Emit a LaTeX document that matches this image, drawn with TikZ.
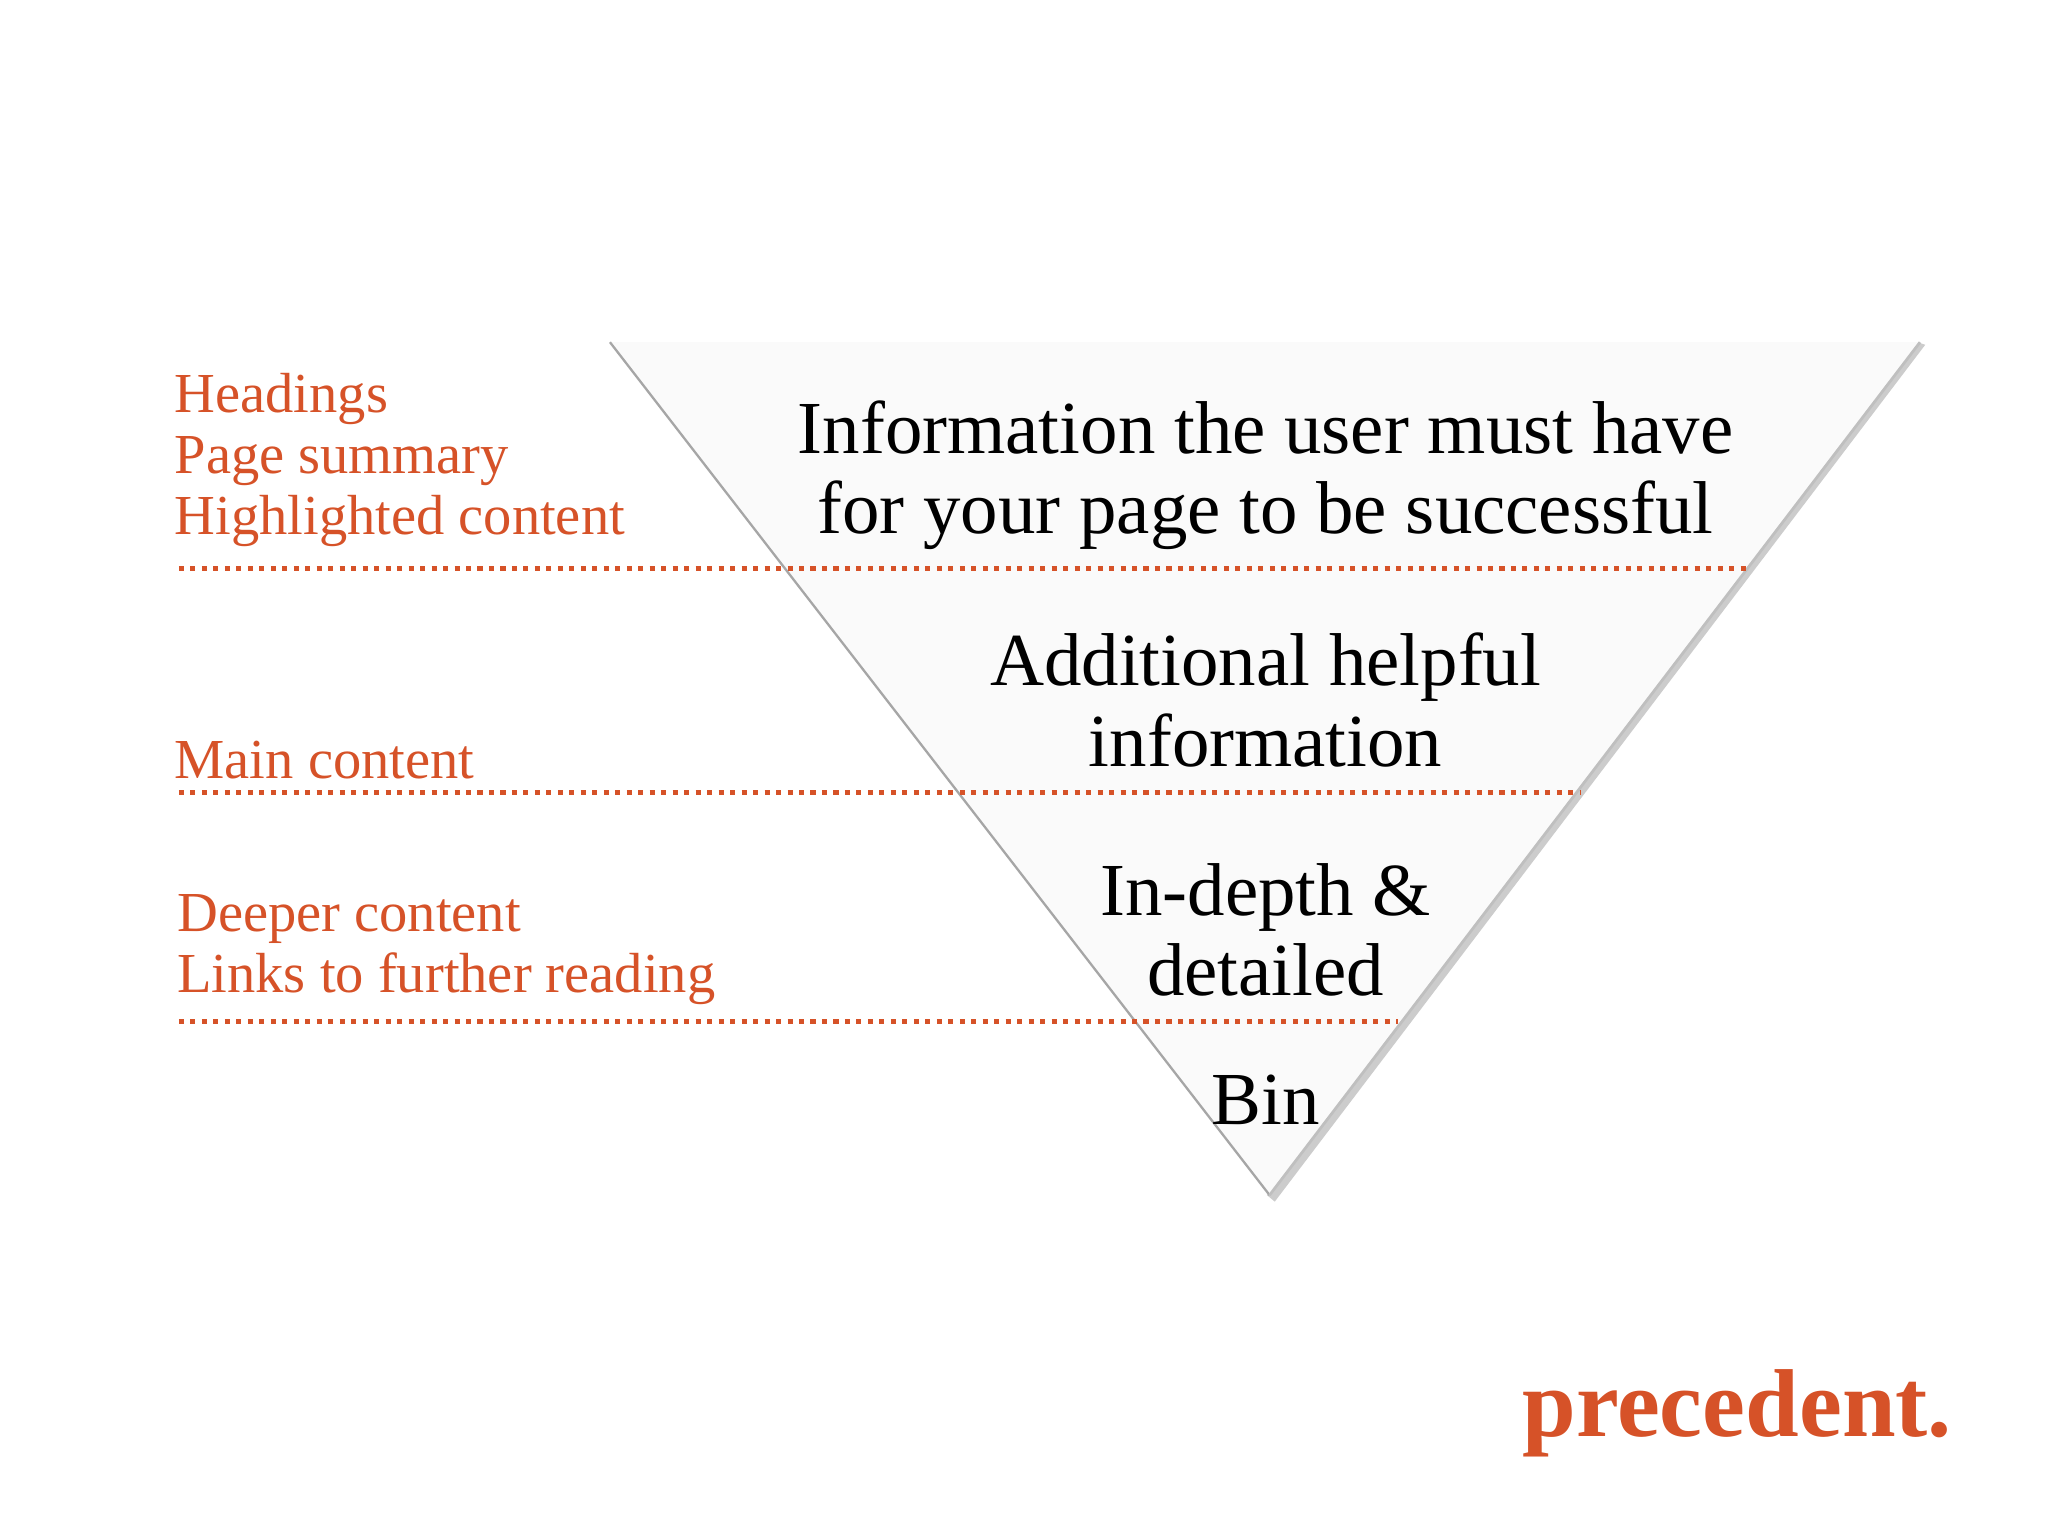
\documentclass[tikz,border=0pt]{standalone}
\usepackage{fontspec}
\setmainfont{Liberation Serif}
\definecolor{prec}{RGB}{214,82,40}
\begin{document}
\begin{tikzpicture}[x=0.01cm,y=-0.01cm,
  lab/.style={text=prec,font=\fontsize{12.3pt}{13.3pt}\selectfont,anchor=west,align=left,inner sep=0},
  main/.style={font=\fontsize{16.3pt}{17.5pt}\selectfont,align=center,inner sep=0},
  dots/.style={prec,line width=1.1pt,dash pattern=on 1.1pt off 1.4pt}]
\useasboundingbox (0,0) rectangle (1568,1176);
\fill[white] (0,0) rectangle (1568,1176);
\fill[gray!40] (1474,264) -- (976,920) -- (970,915) -- (1468,262) -- cycle;
\coordinate (tl) at (467,262); \coordinate (tr) at (1470,262); \coordinate (b) at (972,915);
\fill[black!2] (tl) -- (tr) -- (b) -- cycle;
\draw[gray!70,line width=0.5pt] (tl) -- (b);
\draw[gray!50,line width=0.6pt] (tr) -- (b);
\coordinate (a1) at (137,435); \coordinate (a2) at (1338,435);
\coordinate (b1) at (137,607); \coordinate (b2) at (1210,607);
\coordinate (c1) at (137,782); \coordinate (c2) at (1070,782);
\draw[dots] (a1) -- (a2); \draw[dots] (b1) -- (b2); \draw[dots] (c1) -- (c2);
\node[lab] (l1) at (133,352) {Headings\\Page summary\\Highlighted content};
\node[lab] (l2) at (133,582) {Main content};
\node[lab] (l3) at (135,727) {Deeper content\\Links to further reading};
\node[main] (m1) at (969,364) {Information the user must have\\for your page to be successful};
\node[main] (m2) at (969,536) {Additional helpful\\information};
\node[main] (m3) at (969,712) {In-depth \&\\detailed};
\node[main] (m4) at (969,842) {Bin};
\node[text=prec,font=\fontsize{21pt}{21pt}\selectfont\bfseries,inner sep=0] (logo) at (1330,1082) {precedent.};
\end{tikzpicture}
\end{document}
